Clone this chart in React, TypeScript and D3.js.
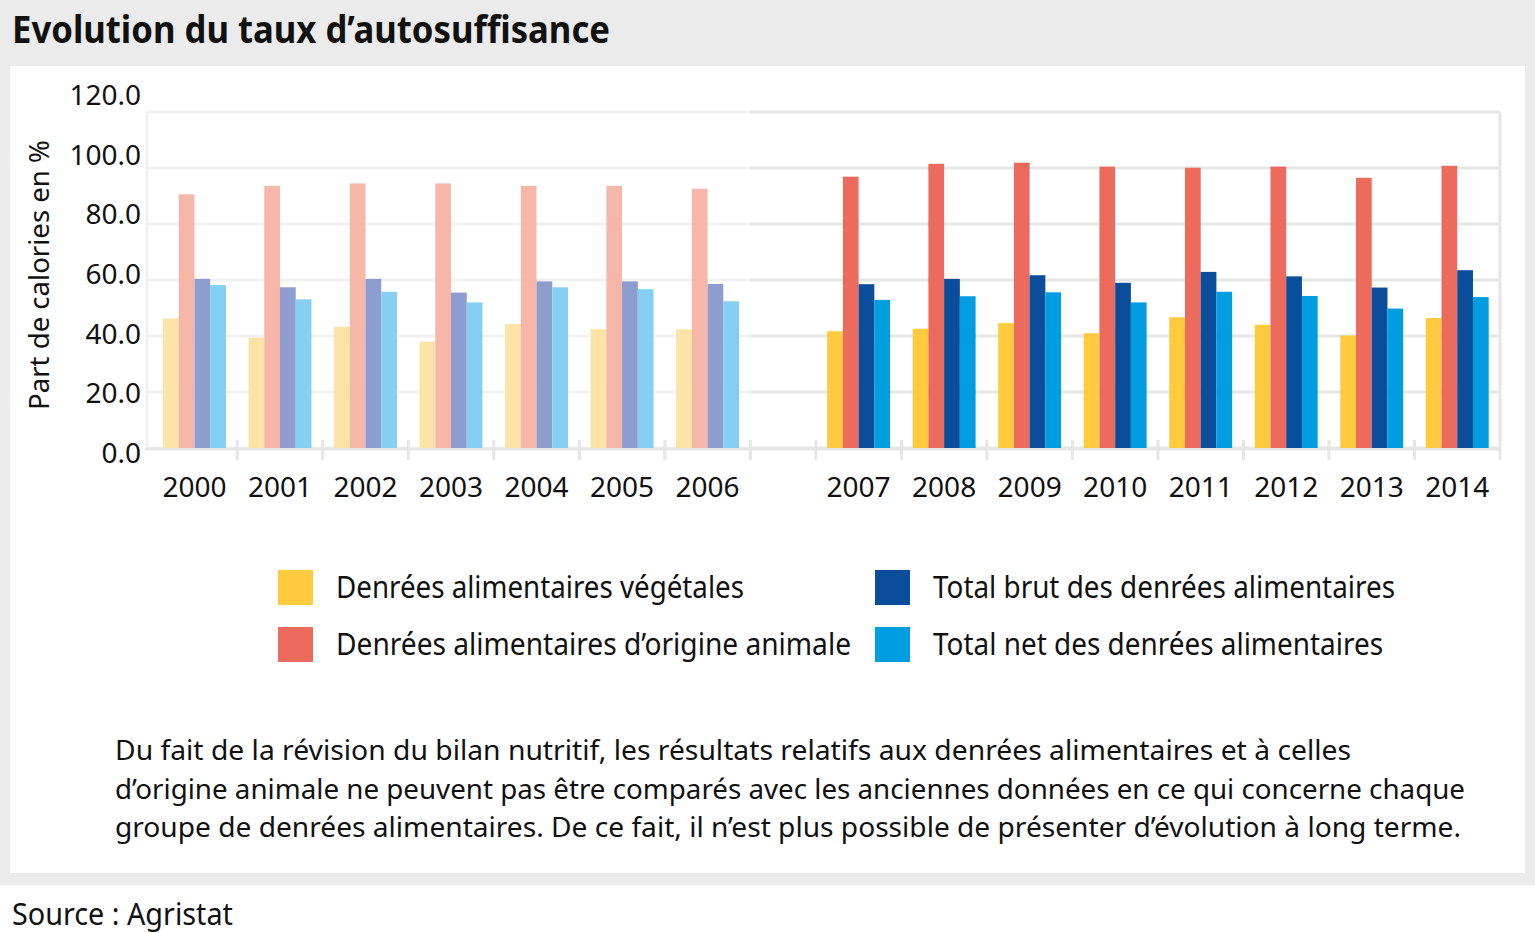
import * as d3 from "d3";

const years = ["2000", "2001", "2002", "2003", "2004", "2005", "2006", "2007", "2008", "2009", "2010", "2011", "2012", "2013", "2014"];
const breakYear = "2007";

const seriesNames = [
  "Denrées alimentaires végétales",
  "Denrées alimentaires d’origine animale",
  "Total brut des denrées alimentaires",
  "Total net des denrées alimentaires",
];

const vegetal = [46.3, 39.4, 43.3, 38.0, 44.3, 42.4, 42.4, 41.7, 42.6, 44.6, 41.0, 46.7, 44.0, 40.2, 46.4];
const animal = [90.6, 93.6, 94.5, 94.5, 93.6, 93.6, 92.6, 96.9, 101.5, 101.9, 100.5, 100.1, 100.5, 96.5, 100.8];
const totalBrut = [60.4, 57.4, 60.4, 55.5, 59.5, 59.5, 58.6, 58.5, 60.4, 61.7, 59.0, 62.9, 61.3, 57.3, 63.5];
const totalNet = [58.2, 53.1, 55.8, 52.0, 57.4, 56.7, 52.4, 52.9, 54.2, 55.6, 52.0, 55.8, 54.3, 49.8, 53.9];
const series = [vegetal, animal, totalBrut, totalNet];

const colors = ["#fecb3e", "#ec6b5c", "#0a4e9b", "#009ee0"];
const fadedColors = ["#fde3a6", "#f6b6a8", "#8e9dd0", "#85cff2"];

const yTicks = [0, 20, 40, 60, 80, 100, 120];

const footnote = [
  "Du fait de la révision du bilan nutritif, les résultats relatifs aux denrées alimentaires et à celles",
  "d’origine animale ne peuvent pas être comparés avec les anciennes données en ce qui concerne chaque",
  "groupe de denrées alimentaires. De ce fait, il n’est plus possible de présenter d’évolution à long terme.",
];
const footnoteWidths = [1236, 1350, 1346];
const legendWidths = [408, 515, 462, 450];

const W = 1535;
const H = 933;
const FONT = "'Noto Sans', 'Open Sans', sans-serif";

export default function App() {
  const plotLeft = 147;
  const plotRight = 1500;
  const bandStart = 151.7;
  const gap = 65.5;
  const breakIdx = years.indexOf(breakYear);

  const x = d3
    .scaleBand<string>()
    .domain(years)
    .range([0, plotRight - bandStart - gap]);
  const bw = x.bandwidth();
  const xPos = (yr: string) => bandStart + x(yr)! + (years.indexOf(yr) >= breakIdx ? gap : 0);

  const sub = d3.scaleBand<number>().domain([0, 1, 2, 3]).range([11.3, bw - 11.3]);

  const y = d3.scaleLinear().domain([0, 120]).range([448, 112]);
  // tick labels sit on a slightly wider spacing than the gridlines
  const yLabel = d3.scaleLinear().domain([0, 120]).range([463, 105]);

  const gridLeftColor = "#f1f1f1";
  const gridRightColor = "#e6e6e6";
  const breakX = xPos(years[breakIdx - 1]) + bw;

  const tickXs: number[] = [];
  years.forEach((yr, i) => {
    if (i > 0) tickXs.push(xPos(yr));
    if (i === breakIdx - 1) tickXs.push(xPos(yr) + bw);
  });

  const legendX = [278, 875];
  const legendY = [570, 627];

  return (
    <svg
      width={W}
      height={H}
      style={{ position: "absolute", left: 0, top: 0, background: "#fff" }}
    >
      <rect x={0} y={0} width={W} height={885} fill="#ebebeb" />
      <rect x={10} y={66} width={1515} height={807} fill="#fff" />

      <text x={12} y={43} fontFamily={FONT} fontWeight={700} fontSize={38} fill="#111"
        textLength={598} lengthAdjust="spacingAndGlyphs">
        Evolution du taux d’autosuffisance
      </text>

      {/* gridlines */}
      {yTicks.map((t) => (
        <g key={t}>
          <line x1={plotLeft} x2={breakX} y1={y(t)} y2={y(t)} stroke={gridLeftColor} strokeWidth={3} />
          <line x1={breakX} x2={plotRight} y1={y(t)} y2={y(t)} stroke={gridRightColor} strokeWidth={3} />
        </g>
      ))}
      <line x1={plotLeft} x2={plotLeft} y1={y(120)} y2={y(0)} stroke={gridLeftColor} strokeWidth={3} />
      <line x1={plotRight} x2={plotRight} y1={y(120)} y2={y(0) + 12} stroke={gridRightColor} strokeWidth={3} />
      <line x1={plotLeft - 2} x2={plotRight} y1={y(0) + 1} y2={y(0) + 1} stroke="#e6e6e6" strokeWidth={3} />
      {tickXs.map((tx, i) => (
        <line key={i} x1={tx} x2={tx} y1={y(0) - 8} y2={y(0) + 12} stroke="#e6e6e6" strokeWidth={3} />
      ))}

      {/* bars */}
      {years.map((yr, i) => (
        <g key={yr} transform={`translate(${xPos(yr)},0)`}>
          {series.map((s, k) => (
            <rect
              key={k}
              x={sub(k)}
              width={sub.bandwidth()}
              y={y(s[i])}
              height={y(0) - y(s[i])}
              fill={i < breakIdx ? fadedColors[k] : colors[k]}
            />
          ))}
          <text x={bw / 2} y={497} textAnchor="middle" fontFamily={FONT} fontSize={28} fill="#111">
            {yr}
          </text>
        </g>
      ))}

      {/* y axis labels */}
      {yTicks.map((t) => (
        <text key={t} x={141} y={yLabel(t)} textAnchor="end" fontFamily={FONT} fontSize={28} fill="#111">
          {d3.format(".1f")(t)}
        </text>
      ))}
      <text
        transform="translate(49,275) rotate(-90)"
        textAnchor="middle"
        fontFamily={FONT}
        fontSize={28}
        fill="#111"
        textLength={270}
        lengthAdjust="spacingAndGlyphs"
      >
        Part de calories en %
      </text>

      {/* legend: two columns, two rows */}
      {seriesNames.map((name, k) => {
        const lx = legendX[Math.floor(k / 2)];
        const ly = legendY[k % 2];
        return (
          <g key={name}>
            <rect x={lx} y={ly} width={35} height={35} fill={colors[k]} />
            <text x={lx + 58} y={ly + 28} fontFamily={FONT} fontSize={31} fill="#111"
              textLength={legendWidths[k]} lengthAdjust="spacingAndGlyphs">
              {name}
            </text>
          </g>
        );
      })}

      {/* footnote */}
      {footnote.map((line, i) => (
        <text key={i} x={115} y={760 + i * 38.5} fontFamily={FONT} fontSize={27} fill="#111"
          textLength={footnoteWidths[i]} lengthAdjust="spacingAndGlyphs">
          {line}
        </text>
      ))}

      <text x={12} y={925} fontFamily={FONT} fontSize={30} fill="#111"
        textLength={221} lengthAdjust="spacingAndGlyphs">
        Source : Agristat
      </text>
    </svg>
  );
}
